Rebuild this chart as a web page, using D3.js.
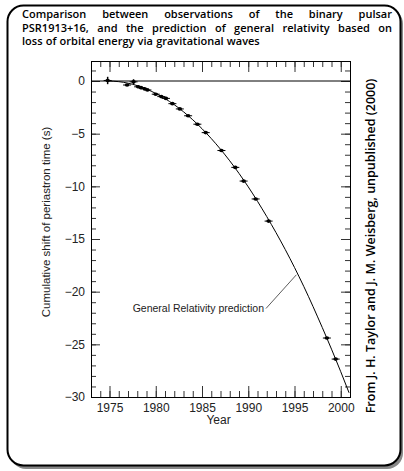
<!DOCTYPE html>
<html>
<head>
<meta charset="utf-8">
<script src="https://cdn.jsdelivr.net/npm/d3@7"></script>
<style>
  body { margin: 0; background: #fff; }
  svg text { font-family: "Liberation Sans", Arial, sans-serif; }
</style>
</head>
<body>
<div id="chart"></div>
<script>
const obsYears  = [1974.8, 1976.9, 1977.6, 1978.1, 1978.4, 1978.8, 1979.1, 1980.0, 1980.6, 1981.1,
                   1981.8, 1982.6, 1983.5, 1984.5, 1985.4, 1987.1, 1988.6, 1989.5, 1990.8, 1992.2,
                   1998.5, 1999.45];
const obsShift  = [0.05, -0.38, -0.08, -0.55, -0.63, -0.74, -0.85, -1.25, -1.48, -1.65,
                   -2.15, -2.65, -3.3, -4.1, -4.9, -6.6, -8.2, -9.5, -11.2, -13.3,
                   -24.4, -26.4];
const obsErr    = [0.35, 0.1, 0.25, 0.1, 0.1, 0.08, 0.08, 0.06, 0.06, 0.05,
                   0.05, 0.05, 0.05, 0.05, 0.05, 0.05, 0.05, 0.05, 0.05, 0.05,
                   0.05, 0.05];

// GR prediction curve
const grYears = [1974.8, 1976, 1978, 1980, 1982, 1984, 1986, 1988, 1990, 1992, 1994, 1996, 1998, 2000, 2000.9];
const grShift = [0, -0.06, -0.44, -1.18, -2.25, -3.68, -5.46, -7.58, -10.05, -12.87, -16.0, -19.5, -23.4, -27.6, -29.6];

const xTicks = [1975, 1980, 1985, 1990, 1995, 2000];
const yTicks = [0, -5, -10, -15, -20, -25, -30];

const titleLines = ["Comparison between observations of the binary pulsar",
                    "PSR1913+16,  and the prediction of general relativity based on",
                    "loss of orbital energy via gravitational waves"];
const credit = "From  J. H. Taylor and J. M. Weisberg,  unpublished (2000)";
const annoText = "General Relativity prediction";
const annoAt = [1991.7, -21.6];     // end of the label
const annoTarget = [1995.2, -18.4]; // where the leader meets the curve

const width = 404, height = 471,
      margin = ({ top: 61, right: 54, bottom: 74, left: 91 });

const svg = d3.select("#chart")
  .append("svg")
  .attr("width", width)
  .attr("height", height);

// outer rounded frame with shadow
svg.append("rect")
  .attr("x", 10).attr("y", 8).attr("width", 393).attr("height", 461)
  .attr("rx", 16).attr("fill", "#888");
svg.append("rect")
  .attr("x", 7.5).attr("y", 5.5).attr("width", 393).attr("height", 460)
  .attr("rx", 16).attr("fill", "#fff").attr("stroke", "#000").attr("stroke-width", 2);

// title, first two lines justified
const titleFont = "'Comic Sans MS', 'Open Sans', sans-serif";
const tx0 = 22, tx1 = 392;
titleLines.forEach((line, i) => {
  const words = line.split(/\s+/);
  const g = svg.append("g");
  const texts = words.map(w => g.append("text")
    .text(w)
    .attr("y", 18 + i * 13.5)
    .style("font-family", titleFont)
    .style("font-weight", 600)
    .style("font-size", "11px")
    .attr("fill", "#000"));
  const widths = texts.map(t => t.node().getComputedTextLength());
  const total = d3.sum(widths);
  const gap = i < 2 ? (tx1 - tx0 - total) / (words.length - 1) : 3.2;
  let x = tx0;
  texts.forEach((t, j) => { t.attr("x", x); x += widths[j] + gap; });
});

const x = d3.scaleLinear()
  .domain([1973, 2001])
  .range([margin.left, width - margin.right]);

const y = d3.scaleLinear()
  .domain([-30, 1.9])
  .range([height - margin.bottom, margin.top]);

const tickCol = "#333";
const minorX = d3.range(1973, 2002, 1);
const minorY = d3.range(-30, 2, 1);

function styleAxis(g) {
  g.select(".domain").remove();
  g.selectAll(".tick line").attr("stroke", tickCol);
  g.selectAll(".tick text").attr("fill", "#222").style("font-size", "12px");
}

// minor ticks on all sides
svg.append("g").attr("transform", `translate(0,${height - margin.bottom})`)
  .call(d3.axisBottom(x).tickValues(minorX).tickSize(-6).tickFormat(""))
  .call(styleAxis);
svg.append("g").attr("transform", `translate(0,${margin.top})`)
  .call(d3.axisTop(x).tickValues(minorX).tickSize(-6).tickFormat(""))
  .call(styleAxis);
svg.append("g").attr("transform", `translate(${margin.left},0)`)
  .call(d3.axisLeft(y).tickValues(minorY).tickSize(-5).tickFormat(""))
  .call(styleAxis);
svg.append("g").attr("transform", `translate(${width - margin.right},0)`)
  .call(d3.axisRight(y).tickValues(minorY).tickSize(-5).tickFormat(""))
  .call(styleAxis);

// major ticks
svg.append("g").attr("transform", `translate(0,${height - margin.bottom})`)
  .call(d3.axisBottom(x).tickValues(xTicks).tickSize(-11).tickPadding(6).tickFormat(d3.format("d")))
  .call(styleAxis);
svg.append("g").attr("transform", `translate(0,${margin.top})`)
  .call(d3.axisTop(x).tickValues(xTicks).tickSize(-11).tickFormat(""))
  .call(styleAxis);
svg.append("g").attr("transform", `translate(${margin.left},0)`)
  .call(d3.axisLeft(y).tickValues(yTicks).tickSize(-9).tickPadding(6).tickFormat(d => d < 0 ? "\u2212" + (-d) : d))
  .call(styleAxis);
svg.append("g").attr("transform", `translate(${width - margin.right},0)`)
  .call(d3.axisRight(y).tickValues(yTicks).tickSize(-9).tickFormat(""))
  .call(styleAxis);

// plot frame
svg.append("rect")
  .attr("x", margin.left + 0.5).attr("y", margin.top + 0.5)
  .attr("width", width - margin.left - margin.right)
  .attr("height", height - margin.top - margin.bottom)
  .attr("fill", "none").attr("stroke", "#000");

// zero line
svg.append("line")
  .attr("x1", margin.left).attr("x2", width - margin.right)
  .attr("y1", y(0)).attr("y2", y(0))
  .attr("stroke", "#000");

// GR curve
const grData = grYears.map((d, i) => [d, grShift[i]]);
svg.append("path")
  .datum(grData)
  .attr("fill", "none")
  .attr("stroke", "#000")
  .attr("stroke-width", 1)
  .attr("d", d3.line().x(d => x(d[0])).y(d => y(d[1])).curve(d3.curveMonotoneX));

// observations
const obs = svg.selectAll(".obs")
  .data(obsYears.map((d, i) => ({ yr: d, v: obsShift[i], e: obsErr[i] })))
  .join("g")
  .attr("class", "obs");

obs.append("line")
  .attr("x1", d => x(d.yr) - 4).attr("x2", d => x(d.yr) + 4)
  .attr("y1", d => y(d.v)).attr("y2", d => y(d.v))
  .attr("stroke", "#000");
obs.append("line")
  .attr("x1", d => x(d.yr)).attr("x2", d => x(d.yr))
  .attr("y1", d => y(d.v - d.e)).attr("y2", d => y(d.v + d.e))
  .attr("stroke", "#000").attr("stroke-width", 1.5);
obs.append("ellipse")
  .attr("cx", d => x(d.yr)).attr("cy", d => y(d.v))
  .attr("rx", 2.3).attr("ry", 1.8)
  .attr("fill", "#000");

// annotation
svg.append("text")
  .attr("x", x(annoAt[0])).attr("y", y(annoAt[1]))
  .attr("text-anchor", "end")
  .attr("dy", "0.35em")
  .style("font-size", "10.5px")
  .attr("fill", "#222")
  .text(annoText);
svg.append("line")
  .attr("x1", x(annoAt[0]) + 2).attr("y1", y(annoAt[1]))
  .attr("x2", x(annoTarget[0])).attr("y2", y(annoTarget[1]))
  .attr("stroke", "#333").attr("stroke-width", 0.8);

// axis titles
svg.append("text")
  .attr("x", (margin.left + width - margin.right) / 2 - 2)
  .attr("y", height - margin.bottom + 27)
  .attr("text-anchor", "middle")
  .style("font-size", "12px")
  .attr("fill", "#222")
  .text("Year");

svg.append("text")
  .attr("transform", `translate(50,${(margin.top + height - margin.bottom) / 2 - 7}) rotate(-90)`)
  .attr("text-anchor", "middle")
  .style("font-size", "11.5px")
  .attr("fill", "#222")
  .text("Cumulative shift of periastron time (s)");

// credit on the right
svg.append("text")
  .attr("transform", `translate(375,246) rotate(-90)`)
  .attr("text-anchor", "middle")
  .style("font-family", titleFont)
  .style("font-weight", 600)
  .style("font-size", "12.5px")
  .attr("fill", "#000")
  .text(credit);
</script>
</body>
</html>
